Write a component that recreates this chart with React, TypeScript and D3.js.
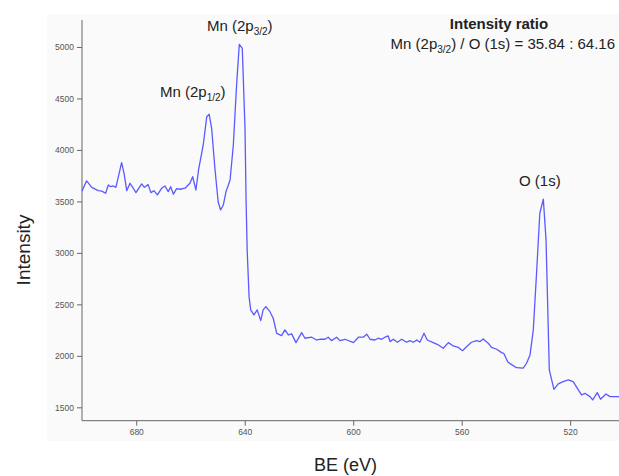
import React, { useEffect, useRef } from "react";
import * as d3 from "d3";

const energies = [
  700, 698.3, 696.4, 694, 692.7, 691.3, 690.3, 689.4, 688.5, 687.5, 685.4,
  684.5, 683.5, 682.3, 681.1, 680.1, 678, 677, 675.6, 674.6, 673.5, 672.2,
  670.6, 669.4, 668.2, 667.3, 666.3, 665.1, 663.9, 662, 660.2, 659.2, 658,
  657, 655.3, 654, 653.1, 652.2, 651, 649.8, 648.9, 647.9, 646.9, 645.4,
  644.2, 643, 642, 640.9, 639.9, 639.5, 639.1, 638.4, 637.8, 636.6, 635.4,
  634.1, 633.2, 632.2, 630.7, 629.5, 628.2, 626.4, 625.2, 623.9, 622.7,
  621.1, 619, 617.8, 615.3, 613.5, 612.3, 610.4, 609.2, 608, 606.1, 604.9,
  603, 599.9, 598.1, 596.3, 595, 593.8, 592, 590.8, 589.5, 588.3, 587.1,
  586.4, 585.2, 583.7, 582.1, 580.3, 579.1, 577.8, 576.6, 575.4, 573.9,
  572.7, 570.5, 568.6, 566.8, 564.9, 563.1, 561.3, 559.7, 558.2, 556.4,
  554.5, 553.3, 552.1, 550.2, 549, 547.1, 545.3, 544.5, 543, 541.3, 539.8,
  537.3, 536.1, 534.8, 533.6, 532.4, 531.2, 529.9, 528.9, 527.7, 526, 524.4,
  522.6, 520.7, 518.9, 517, 515.8, 514.6, 512.7, 511.7, 510, 508.8, 506.8,
  505.3, 502,
];

const intensity = [
  3600, 3700, 3637, 3604, 3600, 3579, 3660, 3643, 3650, 3637, 3876, 3773,
  3604, 3676, 3628, 3585, 3670, 3637, 3663, 3585, 3604, 3563, 3628, 3650,
  3595, 3643, 3570, 3624, 3618, 3628, 3676, 3740, 3611, 3810, 4048, 4323,
  4346, 4210, 3822, 3497, 3417, 3465, 3595, 3708, 4048, 4631, 5026, 4987,
  4210, 3514, 3028, 2575, 2446, 2397, 2446, 2342, 2446, 2478, 2429, 2365,
  2219, 2196, 2252, 2203, 2213, 2128, 2225, 2171, 2181, 2154, 2161, 2161,
  2181, 2148, 2181, 2148, 2161, 2128, 2181, 2181, 2210, 2161, 2154, 2171,
  2161, 2181, 2193, 2138, 2161, 2132, 2161, 2132, 2148, 2132, 2154, 2132,
  2219, 2154, 2128, 2106, 2074, 2128, 2096, 2083, 2050, 2089, 2132, 2148,
  2138, 2164, 2122, 2083, 2064, 2031, 2025, 1940, 1910, 1885, 1880, 1928,
  2009, 2252, 2802, 3385, 3521, 3126, 1863, 1675, 1727, 1749, 1766, 1749,
  1669, 1620, 1636, 1604, 1572, 1643, 1578, 1630, 1604, 1604,
];

const xTicks = [680, 640, 600, 560, 520];
const yTicks = [1500, 2000, 2500, 3000, 3500, 4000, 4500, 5000];

const W = 619;
const H = 476;
const FONT = "'Liberation Sans', Arial, sans-serif";

const Spectrum = () => {
  const ref = useRef<SVGSVGElement>(null);

  useEffect(() => {
    const svg = d3.select(ref.current);
    svg.selectAll("*").remove();

    const x = d3.scaleLinear().domain([700, 502]).range([82, 619]);
    const y = d3.scaleLinear().domain([1370, 5262]).range([420.7, 20]);

    // faint plot panel
    svg
      .append("rect")
      .attr("x", 47)
      .attr("y", 14)
      .attr("width", 572)
      .attr("height", 427)
      .attr("fill", "#fafafa");

    const axisColor = "#666";

    // x axis
    const gx = svg.append("g").attr("transform", `translate(0,${y(1370)})`);
    gx.call(
      d3
        .axisBottom(x)
        .tickValues(d3.range(700, 502, -10))
        .tickSize(3)
        .tickFormat(() => "")
    );
    gx.call(
      d3.axisBottom(x).tickValues(xTicks).tickSize(5).tickFormat(d3.format("d"))
    );
    gx.selectAll("path.domain").remove();
    gx.append("line")
      .attr("x1", x(700))
      .attr("x2", x(502))
      .attr("stroke", axisColor);

    // y axis
    const gy = svg.append("g").attr("transform", `translate(${x(700)},0)`);
    gy.call(
      d3
        .axisLeft(y)
        .tickValues(d3.range(1400, 5300, 100))
        .tickSize(3)
        .tickFormat(() => "")
    );
    gy.call(
      d3.axisLeft(y).tickValues(yTicks).tickSize(5).tickFormat(d3.format("d"))
    );
    gy.selectAll("path.domain").remove();
    gy.append("line")
      .attr("y1", y(1370))
      .attr("y2", y(5262))
      .attr("stroke", axisColor);

    svg.selectAll(".tick line").attr("stroke", axisColor);
    svg
      .selectAll(".tick text")
      .attr("fill", "#555")
      .attr("font-size", 8.5)
      .attr("font-family", FONT);

    // spectrum
    const pts = energies.map((e, i) => [e, intensity[i]] as [number, number]);
    const line = d3
      .line<[number, number]>()
      .x((d) => x(d[0]))
      .y((d) => y(d[1]));

    svg
      .append("path")
      .datum(pts)
      .attr("fill", "none")
      .attr("stroke", "#5a5aff")
      .attr("stroke-width", 1.3)
      .attr("stroke-linejoin", "round")
      .attr("d", line);
  }, []);

  return (
    <svg
      ref={ref}
      width={W}
      height={H}
      style={{ position: "absolute", left: 0, top: 0 }}
    />
  );
};

const sub = (s: string) => (
  <>
    <tspan fontSize={10} dy={4}>
      {s}
    </tspan>
    <tspan dy={-4}>)</tspan>
  </>
);

const Labels = () => (
  <svg
    width={W}
    height={H}
    style={{ position: "absolute", left: 0, top: 0, pointerEvents: "none" }}
    fontFamily={FONT}
    fill="#222"
  >
    <text x={207} y={31} fontSize={15}>
      Mn (2p{sub("3/2")}
    </text>
    <text x={160} y={97} fontSize={15}>
      Mn (2p{sub("1/2")}
    </text>
    <text x={519} y={186} fontSize={15}>
      O (1s)
    </text>
    <text x={499} y={29} fontSize={15} fontWeight="bold" textAnchor="middle">
      Intensity ratio
    </text>
    <text x={615} y={49} fontSize={15} textAnchor="end">
      Mn (2p{sub("3/2")} / O (1s) = 35.84 : 64.16
    </text>
    <text
      transform="translate(30,250) rotate(-90)"
      fontSize={19}
      textAnchor="middle"
    >
      Intensity
    </text>
    <text x={314} y={471} fontSize={18}>
      BE (eV)
    </text>
  </svg>
);

export default function App() {
  return (
    <div
      style={{
        position: "fixed",
        left: 0,
        top: 0,
        width: W,
        height: H,
        background: "#fff",
      }}
    >
      <Spectrum />
      <Labels />
    </div>
  );
}
